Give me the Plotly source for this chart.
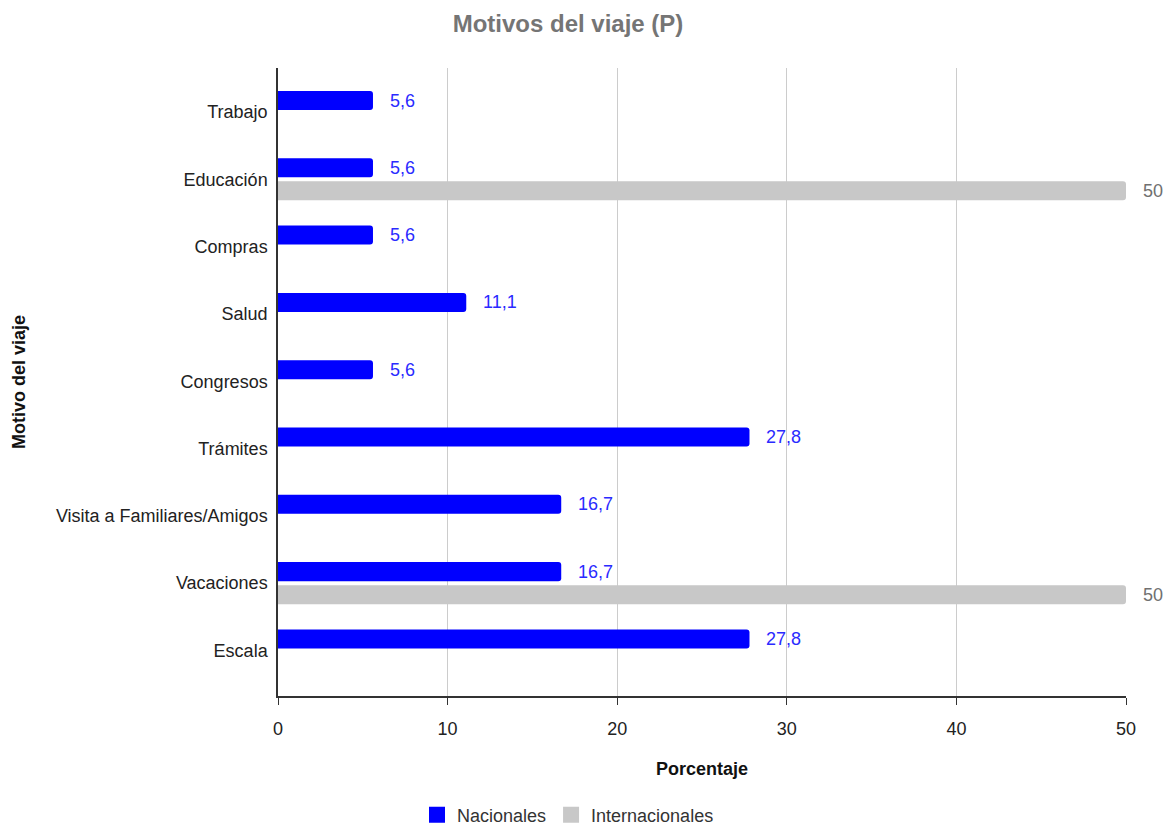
import plotly.graph_objects as go

categories = ["Trabajo", "Educación", "Compras", "Salud", "Congresos", "Trámites",
              "Visita a Familiares/Amigos", "Vacaciones", "Escala"]
nacionales = [5.6, 5.6, 5.6, 11.1, 5.6, 27.8, 16.7, 16.7, 27.8]
internacionales = [None, 50, None, None, None, None, None, 50, None]
x_ticks = [0, 10, 20, 30, 40, 50]
series_names = ["Nacionales", "Internacionales"]

BLUE = "#0000ff"
GRAY = "#c8c8c8"
FONT = "Liberation Sans, Arial, sans-serif"

fig = go.Figure()
fig.add_trace(go.Bar(name=series_names[0], y=categories, x=nacionales, orientation="h",
                     showlegend=False,
                     marker=dict(color=BLUE, cornerradius=3, line=dict(width=0))))
fig.add_trace(go.Bar(name=series_names[1], y=categories, x=internacionales, orientation="h",
                     showlegend=False,
                     marker=dict(color=GRAY, cornerradius=3, line=dict(width=0))))
# legend entries with larger square swatches
for name, col in zip(series_names, [BLUE, GRAY]):
    fig.add_trace(go.Scatter(name=name, x=[None], y=[None], mode="markers",
                             marker=dict(symbol="square", size=18, color=col),
                             showlegend=True, hoverinfo="skip"))

def fmt(v):
    s = f"{v:.1f}".replace(".", ",")
    return s[:-2] if s.endswith(",0") else s

annotations = []
for c, v in zip(categories, nacionales):
    annotations.append(dict(x=v, y=c, xref="x", yref="y", text=fmt(v), showarrow=False,
                            xanchor="left", xshift=15, yshift=11.5,
                            font=dict(family=FONT, size=18, color="#2a2aff")))
for c, v in zip(categories, internacionales):
    if v is not None:
        annotations.append(dict(x=v, y=c, xref="x", yref="y", text=fmt(v), showarrow=False,
                                xanchor="left", xshift=15, yshift=-11.5,
                                font=dict(family=FONT, size=18, color="#707070")))

fig.update_layout(
    width=1167, height=825,
    margin=dict(l=278, r=41, t=68, b=129, autoexpand=False),
    paper_bgcolor="white", plot_bgcolor="white",
    barmode="group", bargap=0.316, bargroupgap=0.174,
    title=dict(text="<b>Motivos del viaje (P)</b>", x=568 / 1167, xanchor="center",
               y=1 - 24 / 825, yanchor="middle",
               font=dict(family=FONT, size=24, color="#757575")),
    xaxis=dict(range=[0, 50], tickvals=x_ticks, showgrid=True, gridcolor="#cccccc", gridwidth=1,
               zeroline=False, showline=True, linecolor="#333333", linewidth=1.5,
               ticks="outside", ticklen=7, tickcolor="#333333", ticklabelstandoff=9,
               automargin=False,
               tickfont=dict(family=FONT, size=18, color="#222222"),
               title=dict(text="<b>Porcentaje</b>", standoff=24,
                          font=dict(family=FONT, size=18, color="#111111"))),
    yaxis=dict(categoryorder="array", categoryarray=categories,
               range=[8.677, -0.654], showgrid=False, zeroline=False,
               showline=True, linecolor="#333333", linewidth=1.5, ticks="",
               ticklabelstandoff=5, automargin=False,
               tickfont=dict(family=FONT, size=18, color="#222222"),
               title=dict(text="<b>Motivo del viaje</b>", standoff=26,
                          font=dict(family=FONT, size=18, color="#111111"))),
    legend=dict(orientation="h", x=568 / 1167, xref="container", xanchor="center",
                y=(825 - 815) / 825, yref="container", yanchor="middle", itemsizing="trace",
                font=dict(family=FONT, size=18, color="#333333")),
    annotations=annotations,
)

fig.write_html("out.html")
